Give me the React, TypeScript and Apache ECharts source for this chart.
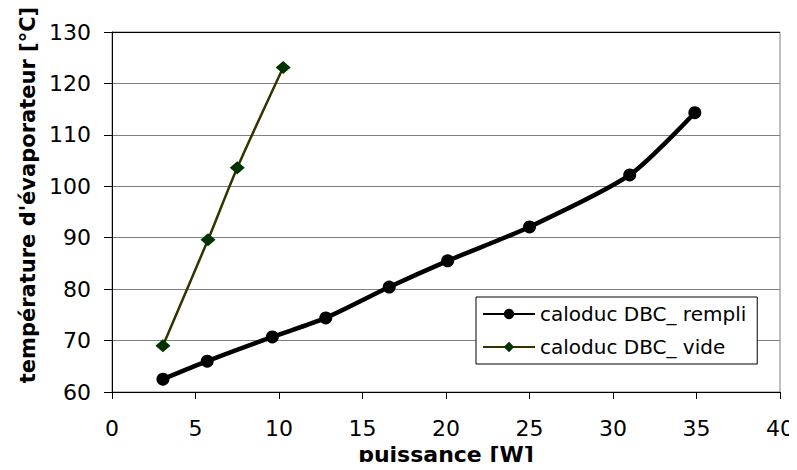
import React, { useEffect, useRef } from "react";
import * as echarts from "echarts";

const rempliX = [3.05, 5.7, 9.6, 12.8, 16.6, 20.1, 25.0, 31.0, 34.9];
const rempliY = [62.5, 66.0, 70.7, 74.4, 80.4, 85.5, 92.1, 102.2, 114.3];
const videX = [3.05, 5.75, 7.5, 10.25];
const videY = [69.0, 89.6, 103.6, 123.1];
const seriesNames = ["caloduc DBC_ rempli", "caloduc DBC_ vide"];

const font = "'DejaVu Sans', Arial, sans-serif";

export default function App() {
  const ref = useRef<HTMLDivElement>(null);
  useEffect(() => {
    if (!ref.current) return;
    const chart = echarts.init(ref.current, undefined, { renderer: "svg" });
    chart.setOption({
      animation: false,
      backgroundColor: "#ffffff",
      grid: {
        left: 112,
        right: 17,
        top: 32,
        bottom: 78,
        containLabel: false,
        outerBoundsMode: "none",
        show: true,
        borderColor: "#808080",
        borderWidth: 1,
      },
      legend: {
        left: 476,
        top: 297,
        orient: "vertical",
        backgroundColor: "#ffffff",
        borderColor: "#000000",
        borderWidth: 1,
        padding: [7, 11, 7, 6],
        itemWidth: 52,
        itemHeight: 13,
        itemGap: 13,
        textStyle: { fontFamily: font, fontSize: 20, color: "#000" },
        data: seriesNames,
      },
      xAxis: {
        type: "value",
        min: 0,
        max: 40,
        interval: 5,
        name: "puissance [W]",
        nameLocation: "middle",
        nameGap: 49,
        nameTextStyle: {
          fontFamily: font,
          fontSize: 22,
          lineHeight: 22,
          fontWeight: "bold",
          color: "#000",
        },
        axisLine: { show: true, lineStyle: { color: "#000", width: 1 } },
        axisTick: { show: true, inside: false, length: 7, lineStyle: { color: "#000" } },
        axisLabel: { fontFamily: font, fontSize: 22, color: "#000", margin: 25 },
        splitLine: { show: false },
      },
      yAxis: {
        type: "value",
        min: 60,
        max: 130,
        interval: 10,
        name: "température d'évaporateur [°C]",
        nameLocation: "middle",
        nameGap: 74,
        nameTextStyle: {
          fontFamily: font,
          fontSize: 21,
          fontWeight: "bold",
          color: "#000",
          padding: [0, 0, 0, 34],
        },
        axisLine: { show: true, lineStyle: { color: "#000", width: 1 } },
        axisTick: { show: true, inside: false, length: 8, lineStyle: { color: "#000" } },
        axisLabel: { fontFamily: font, fontSize: 22, color: "#000", margin: 21 },
        splitLine: {
          show: true,
          lineStyle: {
            color: ["#808080", "#808080", "#808080", "#808080", "#808080", "#808080", "#808080", "#000000"],
            width: 1,
          },
        },
      },
      series: [
        {
          name: seriesNames[0],
          type: "line",
          data: rempliX.map((x, i) => [x, rempliY[i]]),
          smooth: 0.25,
          symbol: "circle",
          symbolSize: 13,
          lineStyle: { color: "#000000", width: 4.5 },
          itemStyle: { color: "#000000" },
          z: 3,
        },
        {
          name: seriesNames[1],
          type: "line",
          data: videX.map((x, i) => [x, videY[i]]),
          smooth: 0.25,
          symbol: "diamond",
          symbolSize: [15, 13],
          lineStyle: { color: "#333300", width: 2.5 },
          itemStyle: { color: "#003300" },
          z: 3,
        },
      ],
    });
    return () => chart.dispose();
  }, []);
  return <div ref={ref} style={{ width: 797, height: 470, margin: -8 }} />;
}
